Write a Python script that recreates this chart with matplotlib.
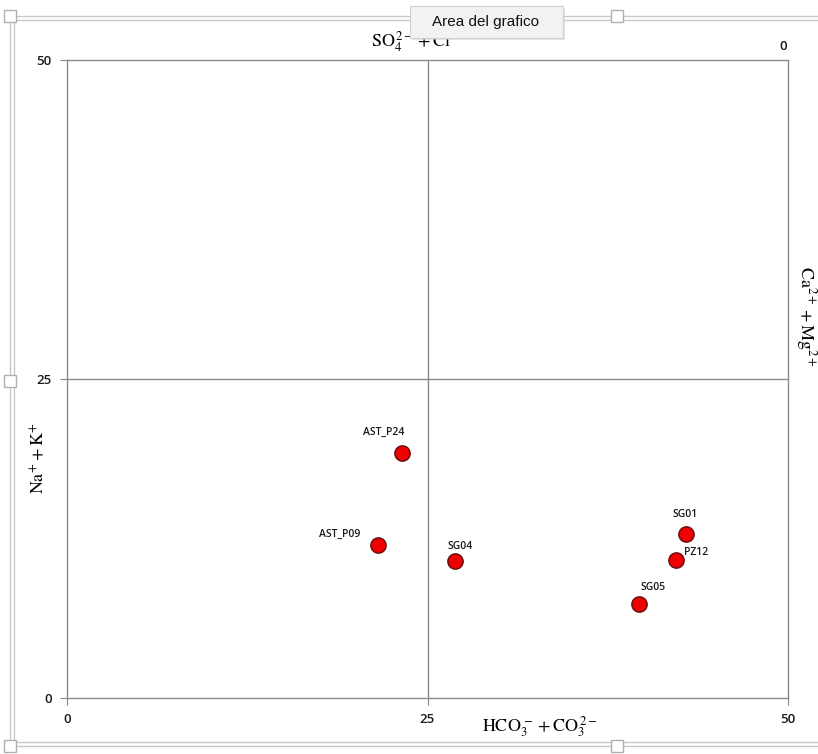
import matplotlib
matplotlib.use("Agg")
import matplotlib.pyplot as plt
from matplotlib.patches import Rectangle
from matplotlib.lines import Line2D

plt.rcParams['mathtext.fontset'] = 'stix'

# Data
samples = ["AST_P24", "AST_P09", "SG04", "SG01", "PZ12", "SG05"]
anions_hco3_co3 = [23.2, 21.6, 26.9, 42.9, 42.2, 39.7]
cations_na_k = [19.2, 12.0, 10.7, 12.85, 10.8, 7.4]
label_offsets = [(-18, 21), (-39, 10), (5, 15), (-1, 20), (21, 8), (14, 16)]
ticks = [0, 25, 50]

W, H = 818, 754
fig = plt.figure(figsize=(W / 100, H / 100), dpi=100)
ax = fig.add_axes([67 / W, 1 - 698 / H, (788 - 67) / W, (698 - 60) / H])

grey = "#8a8a8a"
tick_font = dict(fontsize=9.5, fontfamily="Open Sans", fontweight=600, color="#1a1a1a")
ax.set_xlim(0, 50)
ax.set_ylim(0, 50)
ax.axvline(25, color=grey, lw=1.0, zorder=1)
ax.axhline(25, color=grey, lw=1.0, zorder=1)
for s in ax.spines.values():
    s.set_color(grey)
    s.set_linewidth(1.0)

ax.set_xticks(ticks)
ax.set_yticks(ticks)
ax.set_xticklabels([str(t) for t in ticks], **tick_font)
ax.set_yticklabels([str(t) for t in ticks], **tick_font)
ax.tick_params(axis='x', direction='out', length=5, color=grey, pad=6)
ax.tick_params(axis='y', direction='out', length=5, color=grey, pad=6)

ax.scatter(anions_hco3_co3, cations_na_k, s=120, color="#ee0000", edgecolor="#6a1010",
           linewidth=1.1, zorder=5)
for name, x, y, off in zip(samples, anions_hco3_co3, cations_na_k, label_offsets):
    ax.annotate(name, (x, y), xytext=off, textcoords='offset pixels', ha='center', va='center',
                fontsize=7.5, fontfamily="Open Sans", fontweight=600, color="#1a1a1a", zorder=6)

# axis titles
fig.text(540 / W, 1 - 727 / H, r'$\mathrm{HCO_3^{\,-} + CO_3^{\,2-}}$', ha='center', va='center', fontsize=13)
fig.text(38 / W, 1 - 458 / H, r'$\mathrm{Na^{+} + K^{+}}$', ha='center', va='center', fontsize=13, rotation=90)
fig.text(806 / W, 1 - 316 / H, r'$\mathrm{Ca^{2+} + Mg^{2+}}$', ha='center', va='center', fontsize=13, rotation=-90)
fig.text(415 / W, 1 - 42 / H, r'$\mathrm{SO_4^{\,2-} + Cl^{-}}$', ha='center', va='center', fontsize=13)
fig.text(783 / W, 1 - 46 / H, "0", ha='center', va='center', **tick_font)

# chart-area selection frame
fc = "#c8c8c8"
for (x0, y0, x1, y1) in [(10, 16, 818, 16), (10, 746, 818, 746), (10, 16, 10, 746), (14, 20, 818, 20),
                         (14, 742, 818, 742), (14, 20, 14, 742)]:
    fig.add_artist(Line2D([x0 / W, x1 / W], [1 - y0 / H, 1 - y1 / H], color=fc, lw=1.0))
for (hx, hy) in [(10, 16), (617, 16), (10, 381), (10, 746), (617, 746)]:
    fig.add_artist(Rectangle(((hx - 6) / W, 1 - (hy + 6) / H), 12 / W, 12 / H, facecolor="white",
                             edgecolor="#b0b0b0", lw=1.0, zorder=10))

# tooltip
fig.add_artist(Rectangle((412 / W, 1 - 40 / H), 153 / W, 32 / H, facecolor="#d0d0d0",
                         edgecolor="none", zorder=11, alpha=0.5))
fig.add_artist(Rectangle((410 / W, 1 - 38 / H), 153 / W, 32 / H, facecolor="#f2f2f2",
                         edgecolor="#d0d0d0", lw=0.8, zorder=12))
fig.text(486 / W, 1 - 22 / H, "Area del grafico", ha='center', va='center', fontsize=11,
         fontfamily="Liberation Sans", color="#111111", zorder=13)

fig.savefig("out.png", dpi=100)
